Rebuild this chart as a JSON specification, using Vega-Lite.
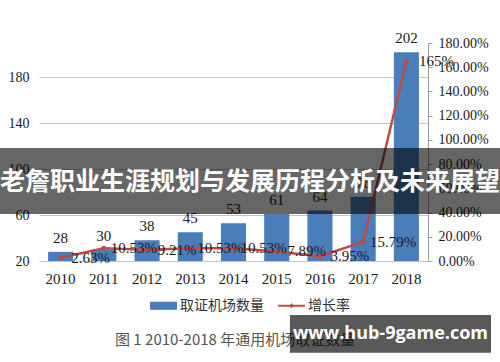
{
  "$schema": "https://vega.github.io/schema/vega-lite/v6.json",
  "width": 389,
  "height": 218,
  "autosize": "none",
  "padding": {"left": 39, "top": 43, "right": 72, "bottom": 101},
  "background": "white",
  "config": {"view": {"stroke": null}, "font": "Liberation Serif", "axis": {"labelOverlap": false}},
  "datasets": {
    "main": [
      {"year": "2010", "count": 28, "rate": 0.0263, "rate_label": "2.63%"},
      {"year": "2011", "count": 30, "rate": 0.1053, "rate_label": "10.53%"},
      {"year": "2012", "count": 38, "rate": 0.0921, "rate_label": "9.21%"},
      {"year": "2013", "count": 45, "rate": 0.1053, "rate_label": "10.53%"},
      {"year": "2014", "count": 53, "rate": 0.1053, "rate_label": "10.53%"},
      {"year": "2015", "count": 61, "rate": 0.0789, "rate_label": "7.89%"},
      {"year": "2016", "count": 64, "rate": 0.0395, "rate_label": "3.95%"},
      {"year": "2017", "count": 76, "rate": 0.1579, "rate_label": "15.79%"},
      {"year": "2018", "count": 202, "rate": 1.65, "rate_label": "165%"}
    ],
    "series": [
      {"series": "取证机场数量"},
      {"series": "增长率"}
    ],
    "caption": [
      {"text": "图 1 2010-2018 年通用机场取证数量"}
    ],
    "banner": [
      {"text": "老詹职业生涯规划与发展历程分析及未来展望"}
    ],
    "watermark": [
      {"text": "www.hub-9game.com"}
    ]
  },
  "layer": [
    {
      "data": {"name": "main"},
      "layer": [
        {
          "layer": [
            {
              "mark": {"type": "bar", "color": "#4A7EBB", "clip": true},
              "encoding": {
                "x": {
                  "field": "year", "type": "ordinal",
                  "scale": {"paddingInner": 0.42, "paddingOuter": 0.21},
                  "axis": {"title": null, "labelAngle": 0, "labelFont": "Liberation Serif", "labelFontSize": 15, "labelColor": "#1a1a1a", "ticks": false, "domain": true, "domainColor": "#c4c4c4", "labelPadding": 10}
                },
                "y": {
                  "field": "count", "type": "quantitative",
                  "scale": {"domain": [20, 210], "nice": false, "zero": false},
                  "axis": {"title": null, "values": [20, 60, 100, 140, 180], "grid": true, "gridColor": "#c4c4c4", "domain": false, "ticks": false, "labelFont": "Liberation Serif", "labelFontSize": 14, "labelColor": "#1a1a1a", "labelPadding": 10}
                }
              }
            },
            {
              "mark": {"type": "text", "baseline": "middle", "dy": -14, "font": "Liberation Serif", "fontSize": 15, "color": "#1a1a1a"},
              "encoding": {
                "x": {"field": "year", "type": "ordinal"},
                "y": {"field": "count", "type": "quantitative"},
                "text": {"field": "count"}
              }
            }
          ]
        },
        {
          "layer": [
            {
              "mark": {"type": "line", "color": "#BE4B48", "strokeWidth": 2.5, "point": {"filled": true, "size": 25, "color": "#BE4B48"}},
              "encoding": {
                "x": {"field": "year", "type": "ordinal", "axis": {"title": null, "labelAngle": 0, "labelFont": "Liberation Serif", "labelFontSize": 15, "labelColor": "#1a1a1a", "ticks": false, "domain": true, "domainColor": "#c4c4c4", "labelPadding": 10}},
                "y": {
                  "field": "rate", "type": "quantitative",
                  "scale": {"domain": [0, 1.8], "nice": false},
                  "axis": {"title": null, "orient": "right", "format": ".2%", "values": [0, 0.2, 0.4, 0.6, 0.8, 1.0, 1.2, 1.4, 1.6, 1.8], "labelOverlap": false, "grid": false, "domain": true, "domainColor": "#9a9a9a", "ticks": true, "tickColor": "#9a9a9a", "tickSize": 4, "labelFont": "Liberation Serif", "labelFontSize": 14, "labelColor": "#1a1a1a", "labelPadding": 6}
                }
              }
            },
            {
              "mark": {"type": "text", "baseline": "middle", "align": "center", "dx": 30, "font": "Liberation Serif", "fontSize": 15, "color": "#1a1a1a"},
              "encoding": {
                "x": {"field": "year", "type": "ordinal"},
                "y": {
                  "field": "rate", "type": "quantitative",
                  "axis": {"title": null, "orient": "right", "format": ".2%", "values": [0, 0.2, 0.4, 0.6, 0.8, 1.0, 1.2, 1.4, 1.6, 1.8], "labelOverlap": false, "grid": false, "domain": true, "domainColor": "#9a9a9a", "ticks": true, "tickColor": "#9a9a9a", "tickSize": 4, "labelFont": "Liberation Serif", "labelFontSize": 14, "labelColor": "#1a1a1a", "labelPadding": 6}
                },
                "text": {"field": "rate_label"}
              }
            }
          ]
        }
      ],
      "resolve": {"scale": {"y": "independent"}}
    },
    {
      "layer": [
        {
          "data": {"name": "series"},
          "mark": {"type": "point", "filled": true, "opacity": 0},
          "encoding": {
            "x": {"datum": 0.5, "type": "quantitative", "scale": {"domain": [0, 1], "nice": false, "zero": false}, "axis": null},
            "y": {"datum": 100, "type": "quantitative", "scale": {"domain": [20, 210], "nice": false, "zero": false}, "axis": null},
            "color": {"field": "series", "type": "nominal", "scale": {"domain": ["取证机场数量", "增长率"], "range": ["#4A7EBB", "#BE4B48"]}, "legend": {"title": null, "orient": "none", "legendX": 111, "legendY": 249, "direction": "horizontal", "symbolOpacity": 1, "symbolStrokeWidth": 0, "symbolSize": 729, "labelFont": "Noto Sans CJK SC", "labelFontSize": 14, "labelColor": "#333333", "labelOffset": 3, "columnPadding": 14, "encode": {"symbols": {"update": {"opacity": {"value": 1}, "fillOpacity": {"value": 1}}}}}},
            "shape": {"field": "series", "type": "nominal", "scale": {"domain": ["取证机场数量", "增长率"], "range": ["M-1,-0.3H1V0.3H-1Z", "M-1,-0.08H1V0.08H-1Z M-0.14,0 L0,-0.2 L0.14,0 L0,0.2Z"]}},
            "size": {"value": 729}
          }
        },
        {
          "data": {"name": "caption"},
          "mark": {"type": "text", "font": "Noto Sans CJK SC", "fontSize": 15, "color": "#555555", "align": "left", "baseline": "middle"},
          "encoding": {
            "x": {"datum": 0.1954, "type": "quantitative"},
            "y": {"datum": -49, "type": "quantitative"},
            "text": {"field": "text"}
          }
        },
        {
          "data": {"name": "banner"},
          "mark": {"type": "rect", "color": "#000000", "opacity": 0.6},
          "encoding": {
            "x": {"datum": -0.1003, "type": "quantitative"},
            "x2": {"datum": 1.186},
            "y": {"datum": 61, "type": "quantitative"},
            "y2": {"datum": 118.5}
          }
        },
        {
          "data": {"name": "banner"},
          "mark": {"type": "text", "font": "Noto Sans CJK SC", "fontWeight": "bold", "fontSize": 25, "color": "white", "align": "center", "baseline": "middle"},
          "encoding": {
            "x": {"datum": 0.5424, "type": "quantitative"},
            "y": {"datum": 89, "type": "quantitative"},
            "text": {"field": "text"}
          }
        },
        {
          "data": {"name": "watermark"},
          "mark": {"type": "rect", "color": "#000000", "opacity": 0.65},
          "encoding": {
            "x": {"datum": 0.645, "type": "quantitative"},
            "x2": {"datum": 1.162},
            "y": {"datum": -27, "type": "quantitative"},
            "y2": {"datum": -60}
          }
        },
        {
          "data": {"name": "watermark"},
          "mark": {"type": "text", "font": "Open Sans", "fontWeight": "bold", "fontSize": 18, "color": "white", "align": "center", "baseline": "middle"},
          "encoding": {
            "x": {"datum": 0.9035, "type": "quantitative"},
            "y": {"datum": -43.5, "type": "quantitative"},
            "text": {"field": "text"}
          }
        }
      ]
    }
  ],
  "resolve": {"scale": {"x": "independent", "y": "independent"}}
}
